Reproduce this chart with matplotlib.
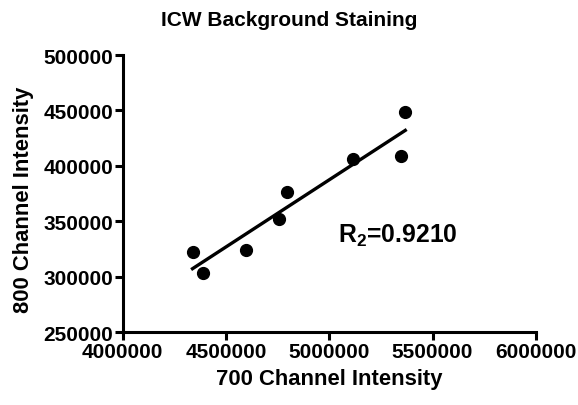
import numpy as np
import matplotlib
matplotlib.use("Agg")
import matplotlib.pyplot as plt

# values
x_700 = [4338000, 4387000, 4597000, 4756000, 4797000, 5113000, 5346000, 5368000]
y_800 = [322700, 303500, 324200, 351900, 376800, 406300, 409000, 448600]
x_ticks = [4000000, 4500000, 5000000, 5500000, 6000000]
y_ticks = [250000, 300000, 350000, 400000, 450000, 500000]
r2_label = "0.9210"

plt.rcParams["font.family"] = ["Liberation Sans", "DejaVu Sans"]
plt.rcParams["font.weight"] = "bold"
plt.rcParams["mathtext.fontset"] = "custom"
plt.rcParams["mathtext.rm"] = "Liberation Sans:bold"
plt.rcParams["mathtext.bf"] = "Liberation Sans:bold"
plt.rcParams["mathtext.default"] = "bf"


def main():
    fig = plt.figure(figsize=(5.78, 4.06), dpi=100)
    ax = fig.add_axes([0.2123, 0.179, 0.7147, 0.683])

    ax.plot(x_700, y_800, "o", color="black", markersize=8.5, clip_on=False)

    # linear regression line over the data range
    slope, intercept = np.polyfit(x_700, y_800, 1)
    xs = np.array([min(x_700), max(x_700)])
    ax.plot(xs, slope * xs + intercept, color="black", linewidth=2.4)

    ax.set_xlim(x_ticks[0], x_ticks[-1])
    ax.set_ylim(y_ticks[0], y_ticks[-1])
    ax.set_xticks(x_ticks)
    ax.set_yticks(y_ticks)
    ax.set_xticklabels([str(v) for v in x_ticks])
    ax.set_yticklabels([str(v) for v in y_ticks])

    for side in ["top", "right"]:
        ax.spines[side].set_visible(False)
    for side in ["left", "bottom"]:
        ax.spines[side].set_linewidth(2.2)
    ax.tick_params(axis="both", direction="out", length=6, width=2.2,
                   labelsize=15, pad=1)

    ax.set_xlabel("700 Channel Intensity", fontsize=15.8, fontweight="bold", labelpad=5)
    ax.set_ylabel("800 Channel Intensity", fontsize=15.8, fontweight="bold")
    ax.yaxis.set_label_coords(-0.215, 0.48)
    fig.text(0.5, 0.936, "ICW Background Staining", fontsize=15,
             fontweight="bold", ha="center", va="baseline")

    ax.text(0.521, 0.326, r"R$_2$=" + r2_label, transform=ax.transAxes,
            fontsize=17.8, fontweight="bold", va="baseline", ha="left")

    fig.savefig("out.png", dpi=100)


if __name__ == "__main__":
    main()
